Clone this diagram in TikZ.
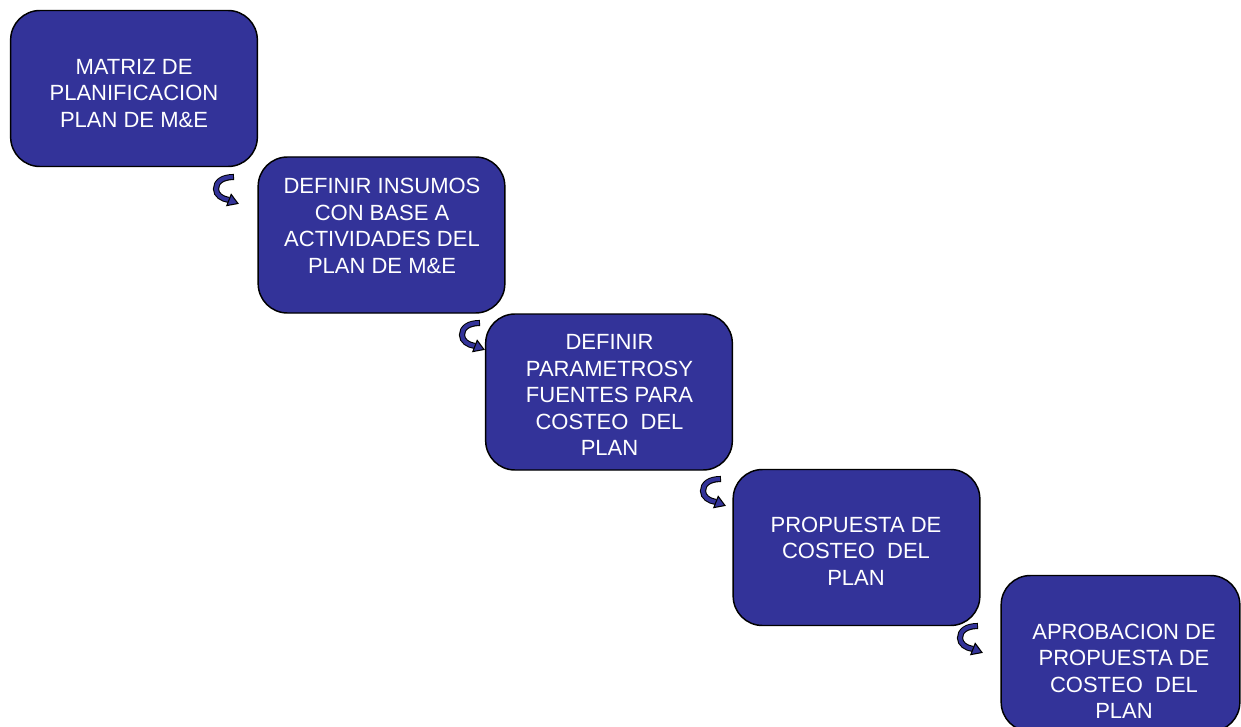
\documentclass[tikz,border=0pt]{standalone}
\usepackage{fontspec}
\setmainfont{Liberation Sans}
\definecolor{boxblue}{RGB}{51,51,153}
\tikzset{
  box/.style={draw=black, line width=1.1pt, fill=boxblue, rounded corners=22pt,
    minimum width=185pt, minimum height=117pt, inner sep=0pt},
  lbl/.style={text=white, align=center, inner sep=0pt,
    font=\fontsize{16.5}{19.9}\selectfont},
  turn/.pic={
    \draw[black, line width=4.6pt] (0,0) .. controls (-12,0) and (-18,5) .. (-18,12)
      .. controls (-18,18) and (-12,22) .. (-5,23);
    \draw[boxblue, line width=3.0pt, shorten <=0.7pt] (0,0) .. controls (-12,0) and (-18,5) .. (-18,12)
      .. controls (-18,18) and (-12,22) .. (-5,23);
    \filldraw[fill=boxblue, draw=black, line width=0.8pt, line join=miter]
      (4,26.5) -- (-7.2,28.6) -- (-2.8,17.4) -- cycle;
  }
}
\begin{document}
\begin{tikzpicture}[x=0.75pt, y=-0.75pt]
\useasboundingbox (0,0) rectangle (1241,727);
\clip (0,0) rectangle (1241,727);
\fill[white] (0,0) rectangle (1241,727);

\node[box] (b1) at (134,88.5) {};
\node[box] (b2) at (381.5,235) {};
\node[box] (b3) at (609,392) {};
\node[box] (b4) at (856.5,547.5) {};
\node[box, minimum width=179pt] (b5) at (1120.5,653.5) {};

\node[lbl] (t1) at (134,93.5) {MATRIZ DE\\PLANIFICACION\\PLAN DE M\&E};
\node[lbl] (t2) at (382,226) {DEFINIR INSUMOS\\CON BASE A\\ACTIVIDADES DEL\\PLAN DE M\&E};
\node[lbl] (t3) at (609.5,395) {DEFINIR\\PARAMETROSY\\FUENTES PARA\\COSTEO~~DEL\\PLAN};
\node[lbl] (t4) at (856,551) {PROPUESTA DE\\COSTEO~~DEL\\PLAN};
\node[lbl] (t5) at (1124,671.5) {APROBACION DE\\PROPUESTA DE\\COSTEO~~DEL\\PLAN};

\coordinate (a1) at (234,177);
\coordinate (a2) at (480,323);
\coordinate (a3) at (721,479);
\coordinate (a4) at (978,626);
\pic at (a1) {turn};
\pic at (a2) {turn};
\pic at (a3) {turn};
\pic at (a4) {turn};
\end{tikzpicture}
\end{document}
